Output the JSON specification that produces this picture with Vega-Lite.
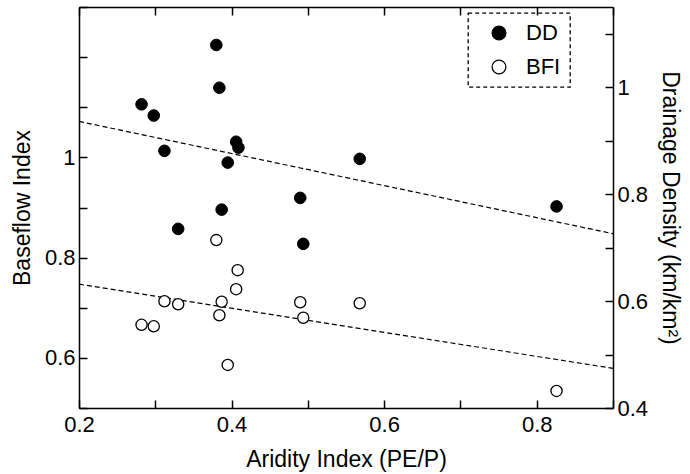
{
  "$schema": "https://vega.github.io/schema/vega-lite/v6.json",
  "width": 534,
  "height": 401,
  "autosize": {"type": "none"},
  "padding": {"left": 79, "top": 7, "right": 77, "bottom": 66},
  "background": "white",
  "config": {
    "view": {"stroke": null},
    "font": "Liberation Sans",
    "axis": {
      "grid": false,
      "domainColor": "black",
      "domainWidth": 1.5,
      "ticks": true,
      "tickColor": "black",
      "tickWidth": 1.5,
      "tickSize": -8,
      "labelColor": "black",
      "titleColor": "black",
      "labelFont": "Liberation Sans",
      "titleFont": "Liberation Sans",
      "labelFontSize": 22,
      "titleFontSize": 23,
      "titleFontWeight": "normal",
      "labelOverlap": false,
      "labelFlush": false
    },
    "legend": {
      "labelFont": "Liberation Sans",
      "labelFontSize": 22,
      "labelColor": "black",
      "strokeColor": "black",
      "strokeDash": [4, 3],
      "strokeWidth": 1.3
    }
  },
  "datasets": {
    "pts": [
      {"series": "DD", "ai": 0.380, "value": 1.079},
      {"series": "DD", "ai": 0.384, "value": 0.999},
      {"series": "DD", "ai": 0.282, "value": 0.968},
      {"series": "DD", "ai": 0.298, "value": 0.947},
      {"series": "DD", "ai": 0.406, "value": 0.898},
      {"series": "DD", "ai": 0.409, "value": 0.887},
      {"series": "DD", "ai": 0.312, "value": 0.881},
      {"series": "DD", "ai": 0.395, "value": 0.859},
      {"series": "DD", "ai": 0.490, "value": 0.793},
      {"series": "DD", "ai": 0.387, "value": 0.771},
      {"series": "DD", "ai": 0.330, "value": 0.735},
      {"series": "DD", "ai": 0.494, "value": 0.707},
      {"series": "DD", "ai": 0.568, "value": 0.866},
      {"series": "DD", "ai": 0.826, "value": 0.777},
      {"series": "BFI", "ai": 0.380, "value": 0.835},
      {"series": "BFI", "ai": 0.408, "value": 0.775},
      {"series": "BFI", "ai": 0.406, "value": 0.737},
      {"series": "BFI", "ai": 0.312, "value": 0.713},
      {"series": "BFI", "ai": 0.330, "value": 0.707},
      {"series": "BFI", "ai": 0.387, "value": 0.712},
      {"series": "BFI", "ai": 0.384, "value": 0.685},
      {"series": "BFI", "ai": 0.282, "value": 0.666},
      {"series": "BFI", "ai": 0.298, "value": 0.663},
      {"series": "BFI", "ai": 0.395, "value": 0.586},
      {"series": "BFI", "ai": 0.490, "value": 0.711},
      {"series": "BFI", "ai": 0.494, "value": 0.680},
      {"series": "BFI", "ai": 0.568, "value": 0.709},
      {"series": "BFI", "ai": 0.826, "value": 0.534}
    ],
    "fits": [
      {"series": "DD", "ai": 0.2, "value": 0.936},
      {"series": "DD", "ai": 0.9, "value": 0.726},
      {"series": "BFI", "ai": 0.2, "value": 0.747},
      {"series": "BFI", "ai": 0.9, "value": 0.579}
    ]
  },
  "layer": [
    {
      "data": {"name": "fits"},
      "transform": [{"filter": "datum.series == 'BFI'"}],
      "mark": {"type": "line", "color": "black", "strokeWidth": 1.2, "strokeDash": [5, 3]},
      "encoding": {
        "x": {"field": "ai", "type": "quantitative", "scale": {"domain": [0.2, 0.9], "nice": false, "zero": false},
          "axis": {"orient": "bottom", "title": "Aridity Index (PE/P)", "ticks": true, "tickSize": -8,
            "values": [0.2, 0.3, 0.4, 0.5, 0.6, 0.7, 0.8, 0.9],
            "labelExpr": "round(datum.value*10)%2==0 ? format(datum.value,'.1f') : ''",
            "labelPadding": 14, "titlePadding": 13}},
        "y": {"field": "value", "type": "quantitative", "scale": {"domain": [0.5, 1.3], "nice": false, "zero": false},
          "axis": {"orient": "left", "title": "Baseflow Index", "ticks": true, "tickSize": -8,
            "values": [0.5, 0.6, 0.7, 0.8, 0.9, 1.0, 1.1, 1.2, 1.3],
            "labelExpr": "(round(datum.value*10)==6 || round(datum.value*10)==8 || round(datum.value*10)==10) ? format(datum.value,'~g') : ''",
            "labelPadding": 12, "titlePadding": 10}}
      }
    },
    {
      "data": {"name": "pts"},
      "transform": [{"filter": "datum.series == 'BFI'"}],
      "mark": {"type": "point", "shape": "circle", "filled": true, "size": 125, "stroke": "black", "strokeWidth": 1.3, "opacity": 1},
      "encoding": {
        "x": {"field": "ai", "type": "quantitative", "axis": null},
        "y": {"field": "value", "type": "quantitative", "scale": {"domain": [0.5, 1.3], "nice": false, "zero": false}, "axis": null},
        "fill": {"field": "series", "type": "nominal",
          "scale": {"domain": ["DD", "BFI"], "range": ["black", "white"]},
          "legend": {"title": null, "orient": "none", "legendX": 389, "legendY": 6,
            "symbolType": "circle", "symbolSize": 190, "symbolStrokeColor": "black", "symbolStrokeWidth": 1.3,
            "symbolOffset": 11, "labelOffset": 16, "padding": 9, "rowPadding": 12}}
      }
    },
    {
      "data": {"name": "fits"},
      "transform": [{"filter": "datum.series == 'DD'"}],
      "mark": {"type": "line", "color": "black", "strokeWidth": 1.2, "strokeDash": [5, 3]},
      "encoding": {
        "x": {"field": "ai", "type": "quantitative",
          "axis": {"orient": "top", "title": null, "labels": false, "ticks": true, "tickSize": -8,
            "values": [0.2, 0.3, 0.4, 0.5, 0.6, 0.7, 0.8, 0.9]}},
        "y": {"field": "value", "type": "quantitative", "scale": {"domain": [0.4, 1.15], "nice": false, "zero": false},
          "axis": {"orient": "right", "title": "Drainage Density (km/km²)", "ticks": true, "tickSize": -8,
            "values": [0.4, 0.5, 0.6, 0.7, 0.8, 0.9, 1.0, 1.1],
            "labelExpr": "round(datum.value*10)%2==0 ? format(datum.value,'~g') : ''",
            "labelPadding": 12, "titlePadding": 10, "titleAngle": 90}}
      }
    },
    {
      "data": {"name": "pts"},
      "transform": [{"filter": "datum.series == 'DD'"}],
      "mark": {"type": "point", "shape": "circle", "filled": true, "size": 135, "stroke": "black", "strokeWidth": 1, "opacity": 1},
      "encoding": {
        "x": {"field": "ai", "type": "quantitative", "axis": null},
        "y": {"field": "value", "type": "quantitative", "scale": {"domain": [0.4, 1.15], "nice": false, "zero": false}, "axis": null},
        "fill": {"field": "series", "type": "nominal"}
      }
    }
  ],
  "resolve": {"scale": {"y": "independent"}, "axis": {"x": "independent", "y": "independent"}}
}
